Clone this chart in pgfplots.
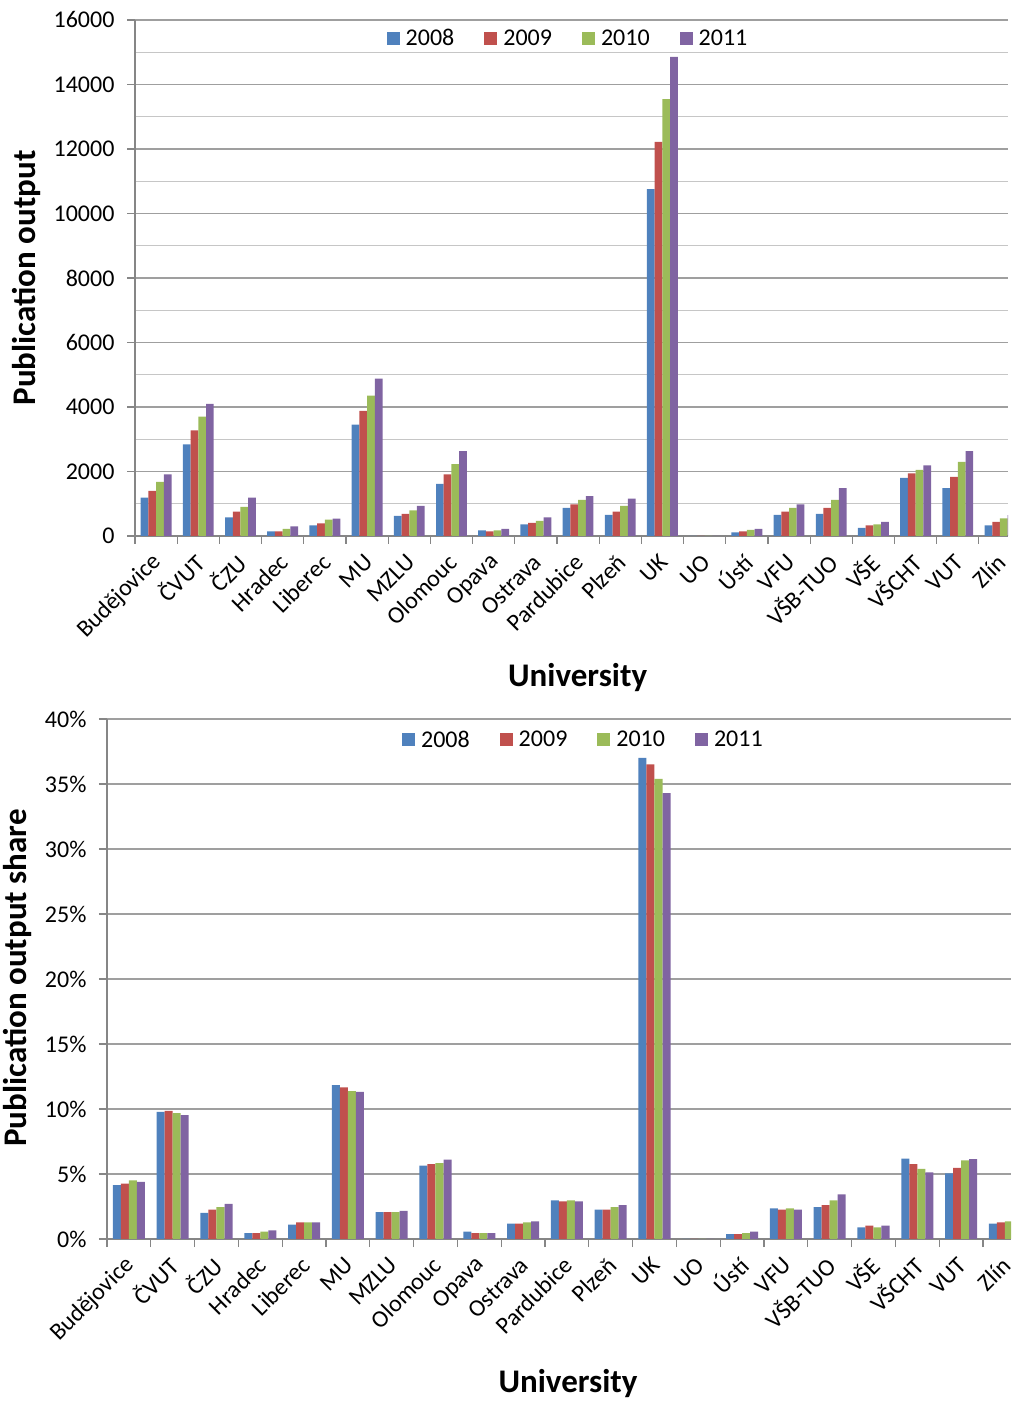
\documentclass[border=0pt]{standalone}
\usepackage{fontspec}
\setmainfont{Carlito}
\usepackage{pgfplots}
\usepackage{pgfplotstable}
\pgfplotsset{compat=1.18}
\definecolor{c08}{HTML}{4F81BD}
\definecolor{c09}{HTML}{C0504D}
\definecolor{c10}{HTML}{9BBB59}
\definecolor{c11}{HTML}{8064A2}
\definecolor{axgray}{HTML}{868686}

% publication output per university
\pgfplotstableread{
x  a      b      c      d
0  1192   1399   1679   1907
1  2839   3275   3700   4093
2  580    756    902    1192
3  145    145    218    300
4  332    394    508    539
5  3451   3876   4352   4881
6  622    684    798    933
7  1617   1907   2228   2632
8  176    145    176    218
9  363    404    466    580
10 870    984    1119   1233
11 653    756    933    1161
12 10757  12223  13547  14858
13 0      0      0      0
14 114    145    187    218
15 653    756    870    984
16 684    870    1119   1482
17 249    332    363    435
18 1803   1938   2052   2187
19 1482   1834   2300   2632
20 332    435    549    650
}\outputtab

% share of publication output (%)
\pgfplotstableread{
x  a      b      c      d
0  4.14   4.25   4.50   4.40
1  9.77   9.85   9.69   9.52
2  2.00   2.25   2.46   2.71
3  0.46   0.46   0.56   0.67
4  1.10   1.28   1.28   1.28
5  11.84  11.66  11.38  11.31
6  2.07   2.07   2.07   2.17
7  5.65   5.76   5.83   6.11
8  0.56   0.46   0.46   0.46
9  1.18   1.18   1.28   1.36
10 2.97   2.89   2.97   2.89
11 2.25   2.25   2.46   2.61
12 37.0   36.5   35.4   34.3
13 0      0      0      0
14 0.38   0.38   0.46   0.56
15 2.35   2.25   2.35   2.25
16 2.46   2.61   2.97   3.43
17 0.90   1.02   0.90   1.02
18 6.19   5.76   5.40   5.12
19 5.04   5.47   6.04   6.14
20 1.18   1.28   1.36   1.40
}\sharetab

\pgfplotsset{
  unis/.style={
    scale only axis,
    axis lines=left,
    axis line style={-, color=axgray, line width=1.2pt},
    ybar, bar width=0.183,
    legend image code/.code={\draw[##1,draw=none] (0pt,-6.5pt) rectangle (13pt,6.5pt);},
    xmin=-0.5,
    ymin=0,
    scaled y ticks=false,
    tick align=outside,
    major tick length=8pt,
    minor tick length=0pt,
    tick style={color=axgray, line width=1.2pt},
    xtick={-0.5,0.5,...,19.5},
    xticklabels={},
    extra x ticks={0,1,...,20},
    extra x tick labels={Budějovice,ČVUT,ČZU,Hradec,Liberec,MU,MZLU,Olomouc,Opava,Ostrava,Pardubice,Plzeň,UK,UO,Ústí,VFU,VŠB-TUO,VŠE,VŠCHT,VUT,Zlín},
    extra x tick style={major tick length=0pt, tick style={draw=none}},
    x tick label style={yshift=-20pt, xshift=4pt, rotate=45, anchor=east, font=\fontsize{24}{28}\selectfont},
    y tick label style={xshift=-9pt, font=\fontsize{24}{28}\selectfont},
    ymajorgrids,
    major grid style={color=gray!75, line width=1.2pt},
    minor grid style={color=gray!45, line width=1pt},
    label style={font=\fontsize{33}{38}\selectfont\bfseries},
    legend style={draw=none, fill=none, legend columns=4,
      font=\fontsize{24}{28}\selectfont, anchor=center,
      /tikz/every odd column/.append style={column sep=4pt},
      /tikz/every even column/.append style={column sep=28pt}},
  },
}

\begin{document}
\begin{tikzpicture}
\path[use as bounding box] (0pt,0pt) rectangle (1024pt,1404pt);

\begin{axis}[unis,
  at={(135pt,868pt)}, anchor=south west,
  width=873pt, height=516pt,
  xmax=20.19, ymax=16000,
  ytick={0,2000,...,16000},
  yticklabels={0,2000,4000,6000,8000,10000,12000,14000,16000},
  minor y tick num=1, yminorgrids,
  xlabel={University}, ylabel={Publication output},
  xlabel style={at={(axis description cs:0.507,-0.275)}, anchor=center},
  ylabel style={at={(axis description cs:-0.124,0.5)}, anchor=center},
  legend style={at={(axis description cs:0.496,0.965)}},
]
\addplot[fill=c08, draw=none, bar shift=-0.2745] table[x=x,y=a] {\outputtab};
\addplot[fill=c09, draw=none, bar shift=-0.0915] table[x=x,y=b] {\outputtab};
\addplot[fill=c10, draw=none, bar shift=0.0915] table[x=x,y=c] {\outputtab};
\addplot[fill=c11, draw=none, bar shift=0.2745] table[x=x,y=d] {\outputtab};
\legend{2008,2009,2010,2011}
\end{axis}

\begin{axis}[unis,
  at={(107pt,165pt)}, anchor=south west,
  width=904pt, height=520pt,
  xmax=20.14, ymax=40,
  ytick={0,5,...,40},
  yticklabels={0\%,5\%,10\%,15\%,20\%,25\%,30\%,35\%,40\%},
  xlabel={University}, ylabel={Publication output share},
  xlabel style={at={(axis description cs:0.51,-0.277)}, anchor=center},
  ylabel style={at={(axis description cs:-0.0985,0.502)}, anchor=center},
  legend style={at={(axis description cs:0.527,0.96)}},
]
\addplot[fill=c08, draw=none, bar shift=-0.2745] table[x=x,y=a] {\sharetab};
\addplot[fill=c09, draw=none, bar shift=-0.0915] table[x=x,y=b] {\sharetab};
\addplot[fill=c10, draw=none, bar shift=0.0915] table[x=x,y=c] {\sharetab};
\addplot[fill=c11, draw=none, bar shift=0.2745] table[x=x,y=d] {\sharetab};
\legend{2008,2009,2010,2011}
\end{axis}
\end{tikzpicture}
\end{document}
